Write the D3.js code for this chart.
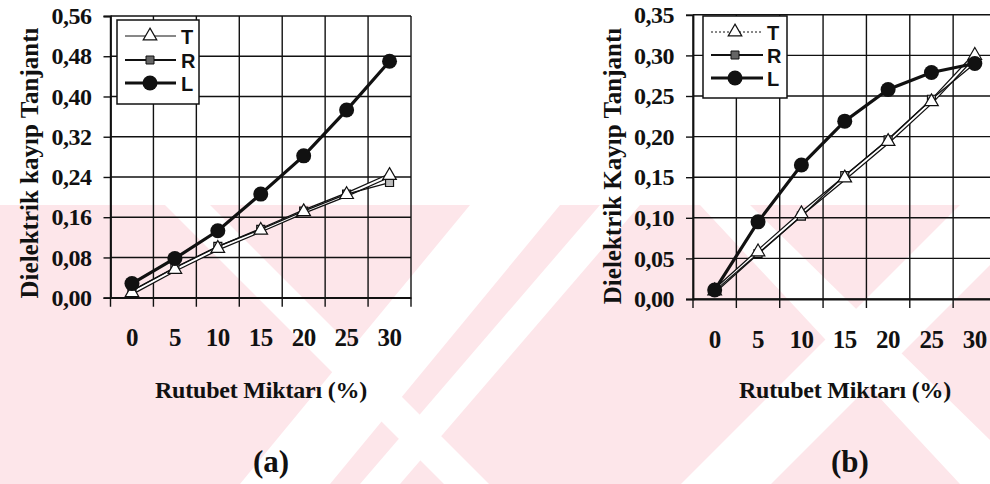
<!DOCTYPE html>
<html>
<head>
<meta charset="utf-8">
<script src="https://cdn.jsdelivr.net/npm/d3@7"></script>
<style>
  html, body { margin: 0; padding: 0; background: #fff; }
  svg { display: block; }
  .serif { font-family: "Liberation Serif", "Times New Roman", Times, serif; font-weight: bold; }
  .sans { font-family: "Liberation Sans", Arial, sans-serif; font-weight: bold; }
</style>
</head>
<body>
<svg id="chart" width="990" height="484"></svg>
<script>
// Moisture content categories (%)
const categories = ["0", "5", "10", "15", "20", "25", "30"];
const seriesNames = ["T", "R", "L"];

// Panel (a): dielectric loss tangent
const yTicksA = [0, 0.08, 0.16, 0.24, 0.32, 0.40, 0.48, 0.56];
const tA = [0.010, 0.056, 0.098, 0.134, 0.171, 0.205, 0.243];
const rA = [0.014, 0.060, 0.102, 0.136, 0.172, 0.206, 0.229];
const lA = [0.028, 0.078, 0.133, 0.206, 0.282, 0.373, 0.470];

// Panel (b): dielectric loss tangent
const yTicksB = [0, 0.05, 0.10, 0.15, 0.20, 0.25, 0.30, 0.35];
const tB = [0.010, 0.058, 0.105, 0.149, 0.194, 0.243, 0.300];
const rB = [0.010, 0.056, 0.102, 0.152, 0.196, 0.246, 0.290];
const lB = [0.011, 0.095, 0.165, 0.219, 0.258, 0.279, 0.290];

const xTitle = "Rutubet Miktarı (%)";
const yTitleA = "Dielektrik kayıp Tanjantı";
const yTitleB = "Dielektrik Kayıp Tanjantı";

const svg = d3.select("#chart");
const INK = "#111";
const PINK = "#fde6ea";

const locale = d3.formatLocale({ decimal: ",", thousands: ".", grouping: [3], currency: ["", ""] });
const fmt = locale.format(".2f");

// Background watermark band
const wm = svg.append("g");
wm.append("rect").attr("x", 0).attr("y", 205).attr("width", 990).attr("height", 279).attr("fill", PINK);
const stripes = [
  // white diagonal gaps in the band
  [[165, 205], [210, 205], [489, 484], [444, 484]],
  [[470, 205], [560, 205], [330, 484], [240, 484]],
  [[600, 205], [640, 205], [400, 484], [360, 484]],
  [[960, 205], [1050, 205], [771, 484], [681, 484]],
  [[700, 205], [750, 205], [990, 440], [990, 484], [960, 484]]
];
wm.selectAll("polygon.gap").data(stripes).join("polygon")
  .attr("class", "gap")
  .attr("points", d => d.map(p => p.join(",")).join(" "))
  .attr("fill", "#fff");

function drawPanel(cfg) {
  const g = svg.append("g");
  const x = d3.scaleBand().domain(categories).range([cfg.x0, cfg.x1]).padding(0);
  const y = d3.scaleLinear().domain([0, cfg.yMax]).range([cfg.yBottom, cfg.yTop]);

  // horizontal gridlines
  g.append("g").selectAll("line").data(cfg.yTicks).join("line")
    .attr("x1", cfg.x0).attr("x2", cfg.x1)
    .attr("y1", d => y(d)).attr("y2", d => y(d))
    .attr("stroke", INK).attr("stroke-width", 1.4);

  // vertical gridlines at category boundaries
  const bounds = categories.map(c => x(c)).concat([cfg.x1]);
  g.append("g").selectAll("line").data(bounds).join("line")
    .attr("x1", d => d).attr("x2", d => d)
    .attr("y1", cfg.yTop).attr("y2", cfg.yBottom + 9)
    .attr("stroke", INK).attr("stroke-width", 1.4);

  // y axis with outward ticks
  const yAxis = g.append("g").attr("transform", `translate(${cfg.x0},0)`)
    .call(d3.axisLeft(y).tickValues(cfg.yTicks).tickSize(7).tickPadding(12).tickFormat(fmt));
  yAxis.select(".domain").attr("stroke", INK).attr("stroke-width", 1.8);
  yAxis.selectAll(".tick line").attr("stroke", INK).attr("stroke-width", 1.4);
  yAxis.selectAll(".tick text")
    .attr("class", "serif").attr("fill", INK)
    .style("font-size", "24px").style("letter-spacing", "-0.5px");

  // x axis labels
  const xAxis = g.append("g").attr("transform", `translate(0,${cfg.yBottom})`)
    .call(d3.axisBottom(x).tickSize(0).tickPadding(31));
  xAxis.select(".domain").attr("stroke", INK).attr("stroke-width", 1.8);
  xAxis.selectAll(".tick text")
    .attr("class", "serif").attr("fill", INK)
    .style("font-size", "25px").style("letter-spacing", "-0.5px");

  const cx = d => x(d) + x.bandwidth() / 2;
  const line = d3.line().x(d => cx(d.c)).y(d => y(d.v));
  const pts = arr => categories.map((c, i) => ({ c, v: arr[i] }));

  const tPts = pts(cfg.t), rPts = pts(cfg.r), lPts = pts(cfg.l);

  // T: hollow (outlined) line
  g.append("path").datum(tPts).attr("d", line).attr("fill", "none")
    .attr("stroke", INK).attr("stroke-width", 4.5);
  g.append("path").datum(tPts).attr("d", line).attr("fill", "none")
    .attr("stroke", "#fff").attr("stroke-width", 2);
  // R: thin black line
  g.append("path").datum(rPts).attr("d", line).attr("fill", "none")
    .attr("stroke", INK).attr("stroke-width", 1.3);

  const sq = d3.symbol().type(d3.symbolSquare).size(64);
  const tri = d3.symbol().type(d3.symbolTriangle).size(80);

  g.append("g").selectAll("path").data(rPts).join("path")
    .attr("d", sq).attr("transform", d => `translate(${cx(d.c)},${y(d.v)})`)
    .attr("fill", "#bbb").attr("stroke", INK).attr("stroke-width", 1.2);
  g.append("g").selectAll("path").data(tPts).join("path")
    .attr("d", tri).attr("transform", d => `translate(${cx(d.c)},${y(d.v)})`)
    .attr("fill", "#fff").attr("stroke", INK).attr("stroke-width", 1.2);

  // L: thick black line with filled circles
  g.append("path").datum(lPts).attr("d", line).attr("fill", "none")
    .attr("stroke", INK).attr("stroke-width", 3.2);
  g.append("g").selectAll("circle").data(lPts).join("circle")
    .attr("cx", d => cx(d.c)).attr("cy", d => y(d.v)).attr("r", 7.5)
    .attr("fill", INK);

  // axis titles
  g.append("text").attr("class", "serif")
    .attr("transform", `translate(${cfg.yTitleX},${cfg.yTitleY}) rotate(-90)`)
    .attr("text-anchor", "middle").attr("dominant-baseline", "central")
    .style("font-size", "25px").attr("fill", INK)
    .text(cfg.yTitle);
  g.append("text").attr("class", "serif")
    .attr("x", cfg.titleX).attr("y", 398)
    .attr("text-anchor", "middle")
    .style("font-size", "24px").style("letter-spacing", "-0.2px").attr("fill", INK)
    .text(xTitle);
  g.append("text").attr("class", "serif")
    .attr("x", cfg.labelX).attr("y", 472)
    .attr("text-anchor", "middle")
    .style("font-size", "31px").attr("fill", INK)
    .text(cfg.label);

  // legend
  const L = cfg.legend;
  const lg = g.append("g");
  lg.append("rect").attr("x", L.x).attr("y", L.y).attr("width", L.w).attr("height", L.h)
    .attr("fill", "#fff").attr("stroke", INK).attr("stroke-width", 1.5);
  seriesNames.forEach((name, i) => {
    const ry = L.rows[i];
    const ln = lg.append("line").attr("x1", L.lx0).attr("x2", L.lx1).attr("y1", ry).attr("y2", ry)
      .attr("stroke", INK);
    if (name === "T") {
      ln.attr("stroke-width", 1).attr("stroke-dasharray", cfg.tDash);
      lg.append("path").attr("d", tri).attr("transform", `translate(${L.mx},${ry})`)
        .attr("fill", "#fff").attr("stroke", INK).attr("stroke-width", 1.2);
    } else if (name === "R") {
      ln.attr("stroke-width", 2);
      lg.append("path").attr("d", sq).attr("transform", `translate(${L.mx},${ry})`)
        .attr("fill", "#666").attr("stroke", INK).attr("stroke-width", 1);
    } else {
      ln.attr("stroke-width", 3);
      lg.append("circle").attr("cx", L.mx).attr("cy", ry).attr("r", 7.5).attr("fill", INK);
    }
    lg.append("text").attr("class", "sans").attr("x", L.tx).attr("y", ry + 1)
      .attr("dominant-baseline", "central").style("font-size", "20px").attr("fill", INK)
      .text(name);
  });
}

drawPanel({
  x0: 110.5, x1: 411, yTop: 16, yBottom: 297.7, yMax: 0.56, yTicks: yTicksA,
  t: tA, r: rA, l: lA,
  yTitle: yTitleA, yTitleX: 29, yTitleY: 163,
  titleX: 261, labelX: 271, label: "(a)", tDash: null,
  legend: { x: 117, y: 20, w: 82, h: 84, rows: [36, 60, 83], lx0: 125, lx1: 176, mx: 150, tx: 181 }
});

drawPanel({
  x0: 693, x1: 996.5, yTop: 14.8, yBottom: 299, yMax: 0.35, yTicks: yTicksB,
  t: tB, r: rB, l: lB,
  yTitle: yTitleB, yTitleX: 612, yTitleY: 166,
  titleX: 845, labelX: 850, label: "(b)", tDash: "2,2",
  legend: { x: 703, y: 16, w: 84, h: 82, rows: [32, 55, 78], lx0: 711, lx1: 763, mx: 735, tx: 767 }
});
</script>
</body>
</html>
